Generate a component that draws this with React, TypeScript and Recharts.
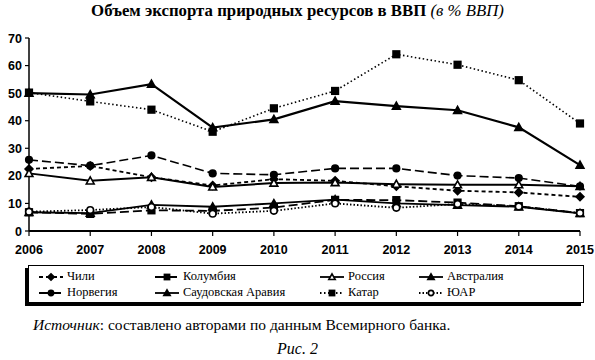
import React from 'react';
import { LineChart, Line, XAxis, YAxis, Legend } from 'recharts';

const years = ['2006', '2007', '2008', '2009', '2010', '2011', '2012', '2013', '2014', '2015'];
const yTicks = [0, 10, 20, 30, 40, 50, 60, 70];

const chile = [22.5, 23.6, 19.5, 16.5, 18.8, 18.2, 16.2, 14.6, 14.0, 12.4];
const colombia = [6.8, 6.2, 7.5, 7.3, 8.5, 11.3, 11.2, 10.3, 9.0, 6.5];
const russia = [20.9, 18.2, 19.5, 16.0, 17.4, 17.6, 17.0, 16.8, 16.8, 16.2];
const australia = [6.8, 6.5, 9.5, 8.8, 10.0, 11.4, 10.0, 9.4, 8.8, 6.4];
const norway = [25.8, 23.7, 27.4, 20.9, 20.4, 22.7, 22.7, 20.1, 19.2, 16.2];
const saudi = [50.0, 49.5, 53.3, 37.5, 40.5, 47.1, 45.3, 43.8, 37.6, 23.9];
const qatar = [50.2, 47.0, 44.0, 36.0, 44.5, 50.8, 64.1, 60.3, 54.7, 39.0];
const sar = [7.0, 7.6, 8.7, 6.3, 7.3, 10.0, 8.4, 9.8, 8.9, 6.5];

type Shape = 'diamond' | 'square' | 'triangle' | 'circle';
interface Series { key: string; name: string; values: number[]; dash?: string; width: number; shape: Shape; filled: boolean; }

const series: Series[] = [
  { key: 'chile', name: 'Чили', values: chile, dash: '4 3', width: 1.8, shape: 'diamond', filled: true },
  { key: 'colombia', name: 'Колумбия', values: colombia, dash: '9 4', width: 1.8, shape: 'square', filled: true },
  { key: 'russia', name: 'Россия', values: russia, width: 2, shape: 'triangle', filled: false },
  { key: 'australia', name: 'Австралия', values: australia, width: 1.8, shape: 'triangle', filled: true },
  { key: 'norway', name: 'Норвегия', values: norway, dash: '9 4', width: 1.6, shape: 'circle', filled: true },
  { key: 'saudi', name: 'Саудовская Аравия', values: saudi, width: 2.2, shape: 'triangle', filled: true },
  { key: 'qatar', name: 'Катар', values: qatar, dash: '1.5 2.5', width: 1.6, shape: 'square', filled: true },
  { key: 'sar', name: 'ЮАР', values: sar, dash: '1.5 2', width: 1.8, shape: 'circle', filled: false },
];

const data = years.map((y, i) => {
  const row: Record<string, number | string> = { year: y };
  series.forEach((s) => { row[s.key] = s.values[i]; });
  return row;
});

function Marker({ cx, cy, shape, filled, size = 3.3 }: { cx: number; cy: number; shape: Shape; filled: boolean; size?: number }) {
  const fill = filled ? '#000' : '#fff';
  const sw = 1.6;
  if (shape === 'circle') return <circle cx={cx} cy={cy} r={size} fill={fill} stroke="#000" strokeWidth={sw} />;
  if (shape === 'square') return <rect x={cx - size} y={cy - size} width={size * 2} height={size * 2} fill={fill} stroke="#000" strokeWidth={sw} />;
  if (shape === 'diamond') {
    const s = size + 0.6;
    return <polygon points={`${cx},${cy - s} ${cx + s},${cy} ${cx},${cy + s} ${cx - s},${cy}`} fill={fill} stroke="#000" strokeWidth={sw} />;
  }
  const s = size + 0.6;
  return <polygon points={`${cx},${cy - s} ${cx + s},${cy + s * 0.8} ${cx - s},${cy + s * 0.8}`} fill={fill} stroke="#000" strokeWidth={sw} />;
}

const makeDot = (s: Series) => (props: any) => {
  const { cx, cy, index } = props;
  if (cx == null || cy == null) return <g key={`${s.key}-${index}`} />;
  return (
    <g key={`${s.key}-${index}`}>
      <Marker cx={cx} cy={cy} shape={s.shape} filled={s.filled} />
    </g>
  );
};

const legendCols = [10, 126, 291, 390];
const legendOrder = [
  ['chile', 'colombia', 'russia', 'australia'],
  ['norway', 'saudi', 'qatar', 'sar'],
];

const renderLegend = () => (
  <div
    style={{
      position: 'relative',
      width: 554,
      height: 36,
      border: '1px solid #000',
      boxShadow: '-3px 3px 0 #000',
      background: '#fff',
      fontFamily: '"Liberation Serif", "DejaVu Serif", serif',
      fontSize: 12.5,
      color: '#000',
    }}
  >
    {legendOrder.map((row, r) =>
      row.map((k, c) => {
        const s = series.find((x) => x.key === k)!;
        return (
          <div key={k} style={{ position: 'absolute', left: legendCols[c], top: 3 + r * 16, height: 15, display: 'flex', alignItems: 'center', whiteSpace: 'nowrap' }}>
            <svg width={24} height={12} style={{ marginRight: 4 }}>
              <line x1={0} y1={6} x2={24} y2={6} stroke="#000" strokeWidth={1.8} strokeDasharray={s.dash} />
              <Marker cx={12} cy={6} shape={s.shape} filled={s.filled} size={2.6} />
            </svg>
            <span>{s.name}</span>
          </div>
        );
      })
    )}
  </div>
);

const fontSans = '"Liberation Sans", Arial, sans-serif';

const XTick = (props: any) => {
  const { x, y, payload } = props;
  return (
    <text x={x} y={y + 16} textAnchor="middle" fontFamily={fontSans} fontWeight={700} fontSize={12.5} fill="#000">
      {payload.value}
    </text>
  );
};

const YTick = (props: any) => {
  const { x, y, payload } = props;
  return (
    <text x={x - 1} y={y + 4.5} textAnchor="end" fontFamily={fontSans} fontWeight={700} fontSize={12.5} fill="#000">
      {payload.value}
    </text>
  );
};

export default function App() {
  return (
    <div style={{ position: 'absolute', left: 0, top: 0, width: 595, height: 360, background: '#fff', overflow: 'hidden' }}>
      <div
        style={{
          position: 'absolute', left: 0, top: 1, width: 595, textAlign: 'center',
          fontFamily: '"Liberation Serif", "DejaVu Serif", serif', fontSize: 16.8, color: '#000',
        }}
      >
        <b>Объем экспорта природных ресурсов в ВВП</b> <i>(в % ВВП)</i>
      </div>
      <div style={{ position: 'absolute', left: 0, top: 0 }}>
        <LineChart width={595} height={304} data={data} margin={{ top: 38, right: 15, left: 0, bottom: 0 }}>
          <XAxis
            dataKey="year"
            height={35}
            axisLine={{ stroke: '#000', strokeWidth: 2 }}
            tickLine={{ stroke: '#000', strokeWidth: 1.2 }}
            tickSize={5}
            tick={<XTick />}
            interval={0}
          />
          <YAxis
            width={29}
            domain={[0, 70]}
            ticks={yTicks}
            axisLine={{ stroke: '#000', strokeWidth: 1.5 }}
            tickLine={{ stroke: '#000', strokeWidth: 1.2 }}
            tickSize={4}
            tick={<YTick />}
            interval={0}
          />
          <Legend content={renderLegend} wrapperStyle={{ position: 'absolute', left: 28, top: 265, width: 556 }} />
          {series.map((s) => (
            <Line
              key={s.key}
              dataKey={s.key}
              name={s.name}
              type="linear"
              stroke="#000"
              strokeWidth={s.width}
              strokeDasharray={s.dash}
              dot={makeDot(s)}
              activeDot={false}
              isAnimationActive={false}
            />
          ))}
        </LineChart>
      </div>
      <div
        style={{
          position: 'absolute', left: 33, top: 316, fontFamily: '"Liberation Serif", "DejaVu Serif", serif', fontSize: 15.5, color: '#000', whiteSpace: 'nowrap',
        }}
      >
        <i>Источник</i>: составлено авторами по данным Всемирного банка.
      </div>
      <div
        style={{
          position: 'absolute', left: 0, top: 340, width: 595, textAlign: 'center', fontFamily: '"Liberation Serif", "DejaVu Serif", serif', fontSize: 16, fontStyle: 'italic', color: '#000',
        }}
      >
        Рис. 2
      </div>
    </div>
  );
}
